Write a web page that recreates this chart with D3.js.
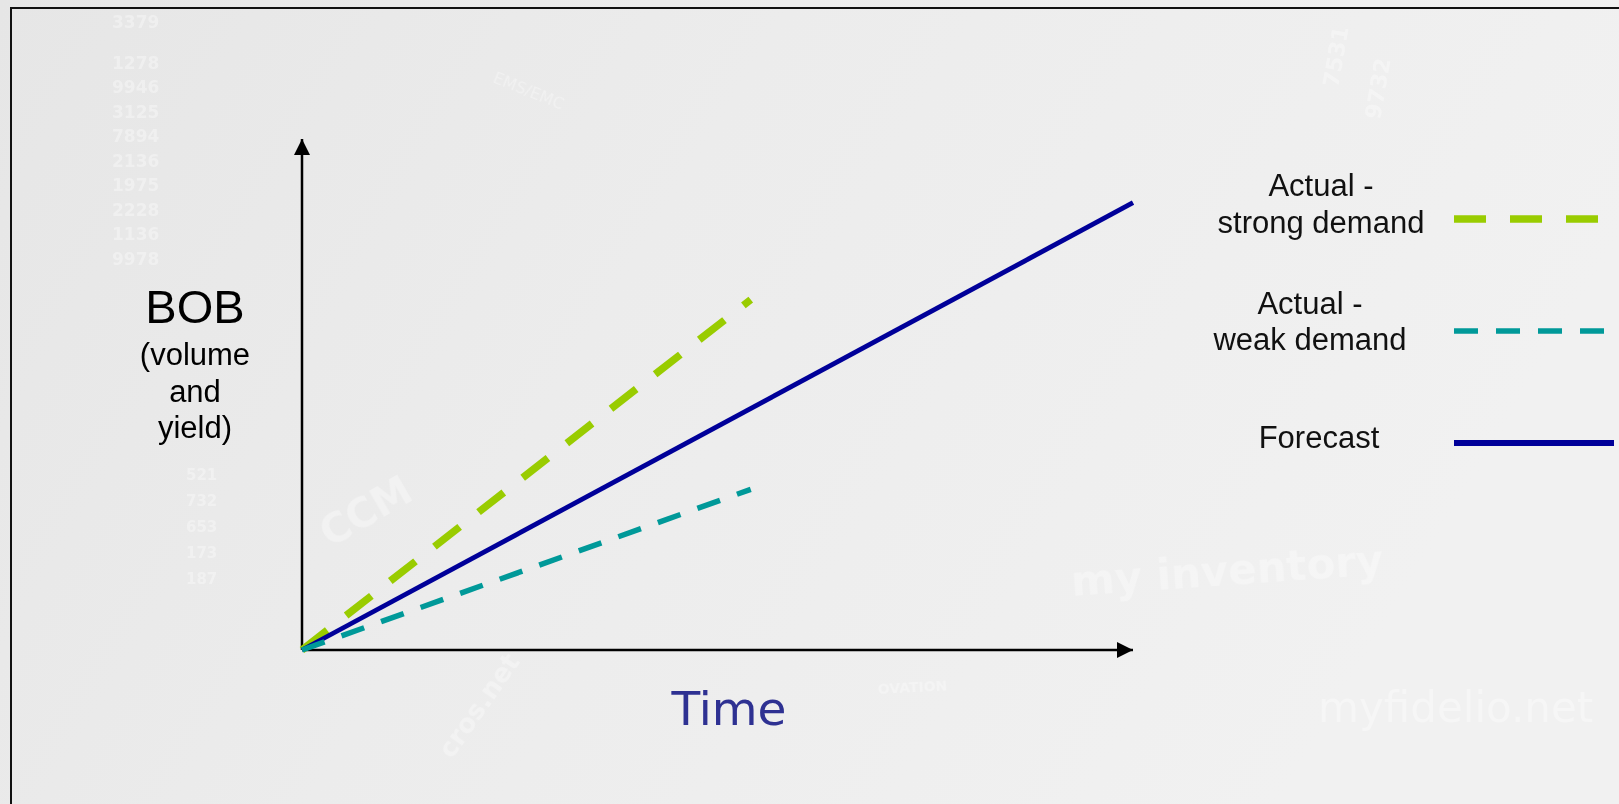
<!DOCTYPE html>
<html>
<head>
<meta charset="utf-8">
<script src="https://cdn.jsdelivr.net/npm/d3@7/dist/d3.min.js"></script>
<style>
  html, body { margin: 0; padding: 0; overflow: hidden; background: #ededed; }
  svg { display: block; }
</style>
</head>
<body>
<svg id="chart" width="1619" height="804"></svg>
<script>
// Series: each line starts at the origin and runs to an end point (time, BOB level)
const seriesNames  = ["Actual - strong demand", "Actual - weak demand", "Forecast"];
const seriesKeys   = ["strong", "weak", "forecast"];
const seriesTime   = [[0, 54], [0, 54], [0, 100]];
const seriesBOB    = [[0, 68.7], [0, 31.5], [0, 87.7]];
const seriesColors = ["#99cc00", "#009999", "#000099"];

// Legend labels (one array of lines per entry)
const legendLines = [["Actual -", "strong demand"], ["Actual -", "weak demand"], ["Forecast"]];

// Axis titles
const yTitle = "BOB";
const ySubtitle = ["(volume", "and", "yield)"];
const xTitle = "Time";

// Faint background lettering
const bgNumbers = ["3379", "1278", "9946", "3125", "7894", "2136", "1975", "2228", "1136", "9978"];
const bgNumbersLow = ["521", "732", "653", "173", "187"];

const W = 1619, H = 804;
const svg = d3.select("#chart");

// ---- background ----
const defs = svg.append("defs");
const bg = defs.append("linearGradient").attr("id", "bgGrad")
  .attr("x1", "0").attr("y1", "0").attr("x2", "1").attr("y2", "0.3");
bg.append("stop").attr("offset", "0").attr("stop-color", "#e6e6e6");
bg.append("stop").attr("offset", "0.45").attr("stop-color", "#ececec");
bg.append("stop").attr("offset", "1").attr("stop-color", "#f1f1f1");
svg.append("rect").attr("width", W).attr("height", H).attr("fill", "url(#bgGrad)");

const deco = svg.append("g").attr("fill", "#ffffff").attr("font-family", "DejaVu Sans, sans-serif")
  .attr("font-weight", "bold").attr("opacity", 0.35);
bgNumbers.forEach((t, i) => {
  deco.append("text").attr("x", 112).attr("y", 28 + i * 24.5 + (i > 0 ? 16 : 0))
    .attr("font-size", 17).text(t);
});
bgNumbersLow.forEach((t, i) => {
  deco.append("text").attr("x", 186).attr("y", 480 + i * 26).attr("font-size", 15).text(t);
});
deco.append("text").attr("transform", "translate(492,82) rotate(22)").attr("font-size", 16)
  .attr("font-weight", "normal").text("EMS/EMC");
deco.append("text").attr("transform", "translate(1072,596) rotate(-4)").attr("font-size", 42)
  .text("my inventory");
deco.append("text").attr("x", 1318).attr("y", 722).attr("font-size", 42).attr("font-weight", "normal")
  .text("myfidelio.net");
deco.append("text").attr("transform", "translate(878,694) rotate(-3)").attr("font-size", 14).text("OVATION");
deco.append("text").attr("transform", "translate(330,548) rotate(-30)").attr("font-size", 40).text("CCM");
deco.append("text").attr("transform", "translate(452,760) rotate(-55)").attr("font-size", 26).text("cros.net");
deco.append("text").attr("transform", "translate(1338,88) rotate(-80)").attr("font-size", 22).text("7531");
deco.append("text").attr("transform", "translate(1380,120) rotate(-80)").attr("font-size", 22).text("9732");

// frame
svg.append("rect").attr("x", 11).attr("y", 8).attr("width", W + 50).attr("height", H + 50)
  .attr("fill", "none").attr("stroke", "#111").attr("stroke-width", 2);

// ---- scales ----
const x = d3.scaleLinear().domain([0, 100]).range([302, 1133]);
const y = d3.scaleLinear().domain([0, 100]).range([650, 140]);

// ---- axes with arrowheads ----
defs.append("marker").attr("id", "arrow").attr("viewBox", "0 0 16 16")
  .attr("refX", 16).attr("refY", 8).attr("markerWidth", 16).attr("markerHeight", 16)
  .attr("markerUnits", "userSpaceOnUse").attr("orient", "auto")
  .append("path").attr("d", "M0,0 L16,8 L0,16 Z").attr("fill", "#000");

const axes = svg.append("g");
axes.append("line").attr("x1", x(0)).attr("y1", y(0)).attr("x2", x(100)).attr("y2", y(0))
  .attr("stroke", "#000").attr("stroke-width", 2.5).attr("marker-end", "url(#arrow)");
axes.append("line").attr("x1", x(0)).attr("y1", y(0)).attr("x2", x(0)).attr("y2", y(100) - 1)
  .attr("stroke", "#000").attr("stroke-width", 2.5).attr("marker-end", "url(#arrow)");

// ---- series lines ----
const styles = {
  strong:   { width: 7.5, dash: "32 24" },
  weak:     { width: 5.5, dash: "24 18" },
  forecast: { width: 4.8, dash: null }
};
const line = d3.line().x(d => x(d[0])).y(d => y(d[1]));
const plot = svg.append("g");
// draw order: strong, forecast, weak on top
[0, 2, 1].forEach(i => {
  const pts = d3.zip(seriesTime[i], seriesBOB[i]);
  const st = styles[seriesKeys[i]];
  plot.append("path").datum(pts).attr("d", line)
    .attr("fill", "none").attr("stroke", seriesColors[i])
    .attr("stroke-width", st.width).attr("stroke-linecap", "butt")
    .attr("stroke-dasharray", st.dash);
});

// ---- axis titles ----
const yt = svg.append("g").attr("font-family", "Liberation Sans, Arial, sans-serif")
  .attr("fill", "#000").attr("text-anchor", "middle");
yt.append("text").attr("x", 195).attr("y", 323).attr("font-size", 47).text(yTitle);
ySubtitle.forEach((t, i) => {
  yt.append("text").attr("x", 195).attr("y", 365 + i * 36.5).attr("font-size", 31).text(t);
});
svg.append("text").attr("x", 729).attr("y", 725).attr("text-anchor", "middle")
  .attr("font-family", "DejaVu Sans, Verdana, sans-serif").attr("font-size", 47)
  .attr("fill", "#2e3192").text(xTitle);

// ---- legend ----
const legendX = [1321, 1310, 1319];
const legendBase = [196, 313.5, 448];
const legendSampleY = [219, 331, 443];
const legendSampleX2 = [1598, 1604, 1614];
const legendSampleW = [7.5, 5.5, 6];
const leg = svg.append("g").attr("font-family", "Liberation Sans, Arial, sans-serif")
  .attr("font-size", 31).attr("fill", "#111").attr("text-anchor", "middle");
legendLines.forEach((lines, i) => {
  lines.forEach((t, j) => {
    leg.append("text").attr("x", legendX[i]).attr("y", legendBase[i] + j * 36.5).text(t);
  });
  const st = styles[seriesKeys[i]];
  svg.append("line").attr("x1", 1454).attr("x2", legendSampleX2[i])
    .attr("y1", legendSampleY[i]).attr("y2", legendSampleY[i])
    .attr("stroke", seriesColors[i]).attr("stroke-width", legendSampleW[i])
    .attr("stroke-dasharray", st.dash);
});
</script>
</body>
</html>
